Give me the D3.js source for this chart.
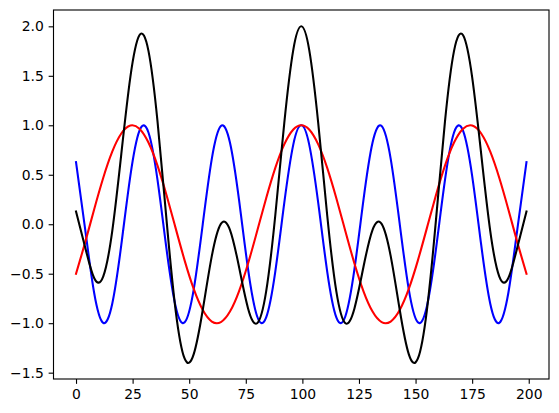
<!DOCTYPE html>
<html>
<head>
<meta charset="utf-8">
<script src="https://cdn.jsdelivr.net/npm/d3@7"></script>
<style>
  html, body { margin: 0; padding: 0; background: #fff; }
  svg { display: block; }
  .tick text { font-family: "DejaVu Sans", sans-serif; font-size: 13.9px; fill: #000; }
</style>
</head>
<body>
<svg id="chart"></svg>
<script>
// sample positions (symmetric around x = 99.5)
const xs = [0, 4, 8, 12, 16, 20, 24, 28, 32, 36, 40, 44, 48, 52, 56, 60, 64, 68, 72, 76, 80, 84, 88, 92, 96,
  99.5,
  103, 107, 111, 115, 119, 123, 127, 131, 135, 139, 143, 147, 151, 155, 159, 163, 167, 171, 175, 179, 183, 187, 191, 195, 199];

const blueValues = [0.6277, -0.0435, -0.6927, -0.9965, -0.8031, -0.2090, 0.4894, 0.9436, 0.9270, 0.4479, -0.2545, -0.8300, -0.9915, -0.6584, 0.0034, 0.6635, 0.9924, 0.8263, 0.2480, -0.4540, -0.9295, -0.9413, -0.4835, 0.2155, 0.8070,
  1.0,
  0.8070, 0.2155, -0.4835, -0.9413, -0.9295, -0.4540, 0.2480, 0.8263, 0.9924, 0.6635, 0.0034, -0.6584, -0.9915, -0.8300, -0.2545, 0.4479, 0.9270, 0.9436, 0.4894, -0.2090, -0.8031, -0.9965, -0.6927, -0.0435, 0.6277];

const redValues = [-0.5000, -0.1857, 0.1494, 0.4678, 0.7335, 0.9170, 0.9973, 0.9656, 0.8254, 0.5925, 0.2929, -0.0395, -0.3674, -0.6542, -0.8673, -0.9831, -0.9884, -0.8826, -0.6778, -0.3966, -0.0710, 0.2626, 0.5667, 0.8071, 0.9569,
  1.0,
  0.9569, 0.8071, 0.5667, 0.2626, -0.0710, -0.3966, -0.6778, -0.8826, -0.9884, -0.9831, -0.8673, -0.6542, -0.3674, -0.0395, 0.2929, 0.5925, 0.8254, 0.9656, 0.9973, 0.9170, 0.7335, 0.4678, 0.1494, -0.1857, -0.5000];

const blackValues = [0.1277, -0.2292, -0.5433, -0.5287, -0.0696, 0.7080, 1.4867, 1.9092, 1.7524, 1.0404, 0.0384, -0.8695, -1.3589, -1.3126, -0.8639, -0.3196, 0.0040, -0.0563, -0.4298, -0.8506, -1.0005, -0.6787, 0.0832, 1.0226, 1.7639,
  2.0,
  1.7639, 1.0226, 0.0832, -0.6787, -1.0005, -0.8506, -0.4298, -0.0563, 0.0040, -0.3196, -0.8639, -1.3126, -1.3589, -0.8695, 0.0384, 1.0404, 1.7524, 1.9092, 1.4867, 0.7080, -0.0696, -0.5287, -0.5433, -0.2292, 0.1277];

const xTicks = [0, 25, 50, 75, 100, 125, 150, 175, 200];
const yTicks = [-1.5, -1.0, -0.5, 0.0, 0.5, 1.0, 1.5, 2.0];
const xLimits = [-9.95, 208.95];
const yLimits = [-1.564, 2.165];

const width = 559, height = 413;
const margin = {top: 10, right: 10, bottom: 34, left: 53.5};

const svg = d3.select('#chart')
  .attr('width', width)
  .attr('height', height);

const x = d3.scaleLinear().domain(xLimits).range([margin.left, width - margin.right]);
const y = d3.scaleLinear().domain(yLimits).range([height - margin.bottom, margin.top]);

// lines
const series = [
  {values: blueValues, color: '#0000ff'},
  {values: redValues, color: '#ff0000'},
  {values: blackValues, color: '#000000'}
];

const line = d3.line()
  .x(d => x(d[0]))
  .y(d => y(d[1]))
  .curve(d3.curveNatural);

const plot = svg.append('g');
plot.append('clipPath').attr('id', 'clip')
  .append('rect')
  .attr('x', margin.left).attr('y', margin.top)
  .attr('width', width - margin.left - margin.right)
  .attr('height', height - margin.top - margin.bottom);

plot.selectAll('path.series')
  .data(series)
  .enter().append('path')
  .attr('class', 'series')
  .attr('clip-path', 'url(#clip)')
  .attr('d', s => line(xs.map((v, i) => [v, s.values[i]])))
  .attr('fill', 'none')
  .attr('stroke', s => s.color)
  .attr('stroke-width', 2.08)
  .attr('stroke-linejoin', 'round')
  .attr('stroke-linecap', 'square');

// axes
const xAxis = d3.axisBottom(x).tickValues(xTicks).tickFormat(d3.format('d'))
  .tickSize(4.86).tickPadding(4.86);
const yAxis = d3.axisLeft(y).tickValues(yTicks).tickFormat(d3.format('.1f'))
  .tickSize(4.86).tickPadding(4.86);

svg.append('g')
  .attr('transform', 'translate(0,' + (height - margin.bottom) + ')')
  .call(xAxis)
  .call(g => g.select('.domain').remove())
  .call(g => g.selectAll('.tick line').attr('stroke-width', 1.11))
  .call(g => g.selectAll('.tick text').attr('dy', '0.71em'));

svg.append('g')
  .attr('transform', 'translate(' + margin.left + ',0)')
  .call(yAxis)
  .call(g => g.select('.domain').remove())
  .call(g => g.selectAll('.tick line').attr('stroke-width', 1.11));

// frame
svg.append('rect')
  .attr('x', margin.left)
  .attr('y', margin.top)
  .attr('width', width - margin.left - margin.right)
  .attr('height', height - margin.top - margin.bottom)
  .attr('fill', 'none')
  .attr('stroke', '#000')
  .attr('stroke-width', 1.11);
</script>
</body>
</html>
